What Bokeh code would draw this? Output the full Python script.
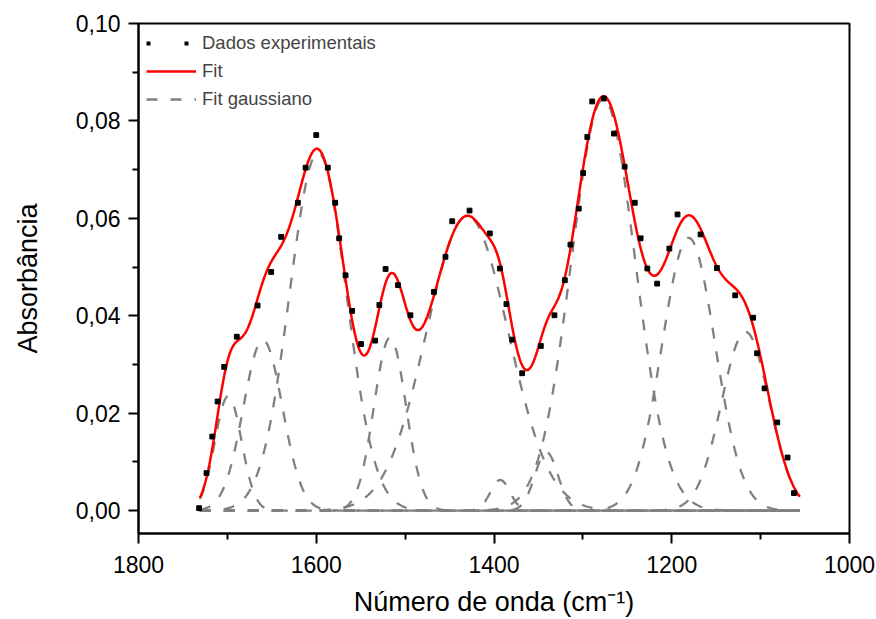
import numpy as np
from bokeh.plotting import figure
from bokeh.models import Range1d, FixedTicker, CustomJSTickFormatter, Legend, LegendItem
from bokeh.embed import file_html
from bokeh.resources import INLINE

exp_wavenumber = [1731.8, 1723.5, 1717.0, 1711.0, 1703.6, 1689.4, 1666.0, 1650.7, 1639.5,
                  1620.7, 1612.0, 1600.0, 1587.0, 1578.7, 1574.2, 1567.0, 1559.6, 1549.6,
                  1533.7, 1529.0, 1522.0, 1508.0, 1494.0, 1467.7, 1454.6, 1447.0, 1427.5,
                  1404.7, 1393.4, 1386.0, 1379.5, 1368.3, 1347.3, 1332.0, 1320.3, 1314.0,
                  1304.6, 1299.7, 1295.0, 1289.5, 1276.4, 1265.0, 1253.0, 1241.6, 1235.0,
                  1227.5, 1216.4, 1202.7, 1193.5, 1167.6, 1149.2, 1128.6, 1108.4, 1104.0,
                  1095.6, 1081.3, 1069.7, 1062.5]
exp_absorbance = [0.0005, 0.0077, 0.0152, 0.0224, 0.0295, 0.0357, 0.0421, 0.0490, 0.0562,
                  0.0632, 0.0704, 0.0771, 0.0704, 0.0632, 0.0559, 0.0483, 0.0410, 0.0342,
                  0.0349, 0.0422, 0.0496, 0.0463, 0.0401, 0.0449, 0.0521, 0.0594, 0.0616,
                  0.0569, 0.0497, 0.0424, 0.0351, 0.0282, 0.0338, 0.0401, 0.0473, 0.0546,
                  0.0620, 0.0693, 0.0767, 0.0840, 0.0846, 0.0774, 0.0706, 0.0632, 0.0559,
                  0.0497, 0.0466, 0.0538, 0.0608, 0.0567, 0.0498, 0.0442, 0.0396, 0.0323,
                  0.0251, 0.0181, 0.0109, 0.0036]

# ---- gaussian components of the fit (centre, height, sigma) ----
gauss_center = [1699, 1660, 1598, 1517, 1430, 1393, 1341, 1277, 1181, 1117]
gauss_height = [0.0235, 0.0350, 0.0735, 0.0355, 0.0605, 0.0063, 0.0120, 0.0845, 0.0560, 0.0367]
gauss_sigma = [15, 22, 32, 18, 46, 11, 13, 36, 30, 27]
fit_start, fit_end = 1731, 1056

# ---- axes / texts ----
x_major_ticks = [1800, 1600, 1400, 1200, 1000]
x_minor_ticks = [1700, 1500, 1300, 1100]
y_major_ticks = [0.00, 0.02, 0.04, 0.06, 0.08, 0.10]
y_minor_ticks = [0.01, 0.03, 0.05, 0.07, 0.09]
legend_labels = ["Dados experimentais", "Fit", "Fit gaussiano"]
x_title = "Número de onda (cm\u207b\u00b9)"
y_title = "Absorbância"

FONT = "Liberation Sans"

wn = np.linspace(fit_start, fit_end, 700)
components = [h * np.exp(-0.5 * ((wn - c) / s) ** 2)
              for c, h, s in zip(gauss_center, gauss_height, gauss_sigma)]
fit_curve = np.sum(components, axis=0)

p = figure(width=876, height=619, x_range=Range1d(1800, 1000),
           y_range=Range1d(-0.0047, 0.10), output_backend="svg",
           toolbar_location=None, min_border_left=138, min_border_right=27,
           min_border_top=23, min_border_bottom=86)
p.xgrid.visible = False
p.ygrid.visible = False
p.outline_line_color = "black"
p.outline_line_width = 2
p.background_fill_color = "white"
p.border_fill_color = "white"

gray = p.multi_line([list(wn)] * len(components), [list(c) for c in components],
                    line_color="#808080", line_width=2.3, line_dash="11 13")
red = p.line(wn, fit_curve, line_color="#ff0000", line_width=2.5)
p.scatter(exp_wavenumber, exp_absorbance, marker="square", size=4.8,
          fill_color="black", line_color="black")
# legend-only sample of the dotted data style (placed outside the visible range)
dots_legend = p.line([2100, 2200], [0.5, 0.5], line_color="black", line_width=4,
                     line_dash="4 34")

legend = Legend(items=[LegendItem(label=legend_labels[0], renderers=[dots_legend]),
                       LegendItem(label=legend_labels[1], renderers=[red]),
                       LegendItem(label=legend_labels[2], renderers=[gray])],
                location="top_left", margin=0, padding=8, spacing=4,
                glyph_width=50, glyph_height=24, label_standoff=6,
                label_text_font=FONT, label_text_font_size="18.5px",
                border_line_alpha=0, background_fill_alpha=0)
p.add_layout(legend)

for ax in (p.xaxis[0], p.yaxis[0]):
    ax.axis_line_width = 2
    ax.major_tick_line_width = 2
    ax.minor_tick_line_width = 2
    ax.major_tick_out = 10
    ax.major_tick_in = 0
    ax.minor_tick_out = 6
    ax.minor_tick_in = 0
    ax.major_label_text_font = FONT
    ax.major_label_text_font_size = "23px"
    ax.major_label_text_color = "black"
    ax.axis_label_text_font = FONT
    ax.axis_label_text_font_size = "27px"
    ax.axis_label_text_font_style = "normal"
    ax.axis_label_text_color = "black"

p.xaxis.ticker = FixedTicker(ticks=x_major_ticks, minor_ticks=x_minor_ticks)
p.yaxis.ticker = FixedTicker(ticks=y_major_ticks, minor_ticks=y_minor_ticks)
p.yaxis.formatter = CustomJSTickFormatter(code="return tick.toFixed(2).replace('.', ',');")
p.xaxis.major_label_standoff = 12
p.yaxis.major_label_standoff = 8
p.xaxis.axis_label = x_title
p.yaxis.axis_label = y_title
p.xaxis.axis_label_standoff = 11
p.yaxis.axis_label_standoff = 30

open("out.html", "w").write(file_html(p, INLINE))
